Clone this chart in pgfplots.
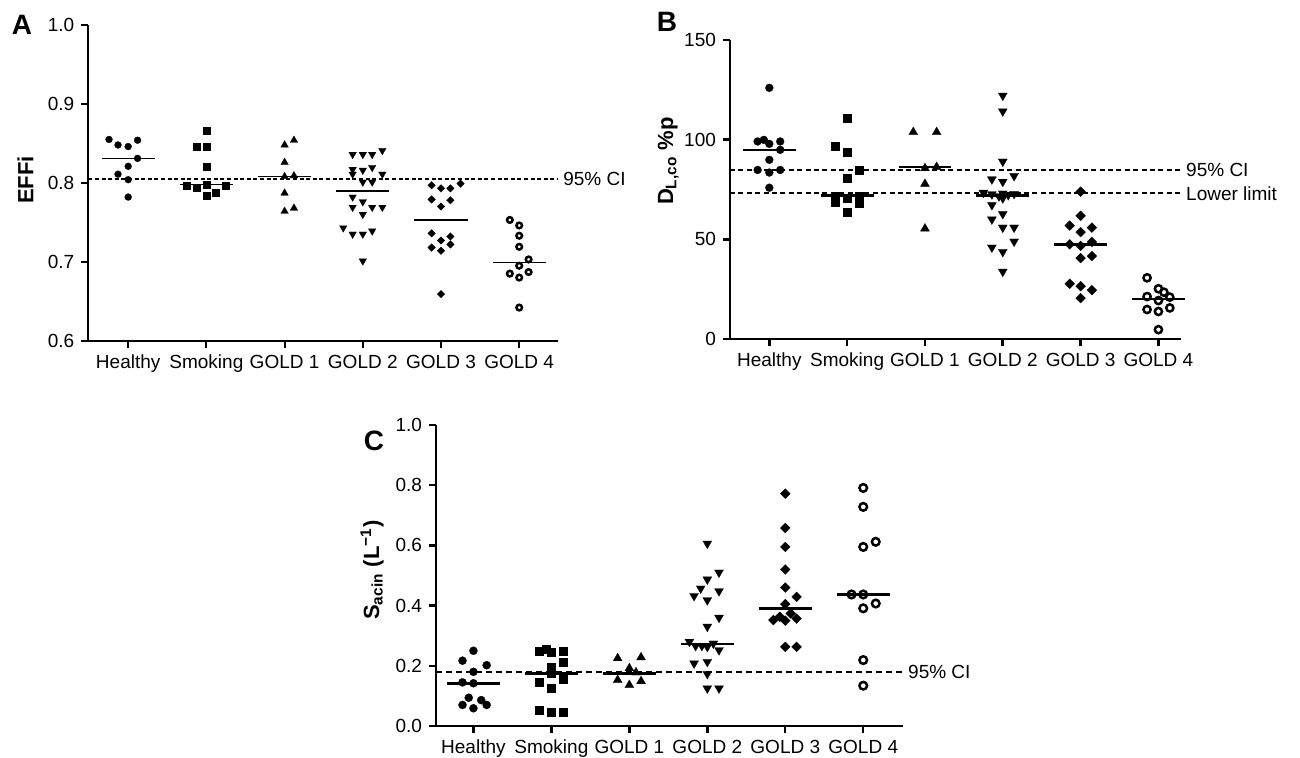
\documentclass[border=0pt]{standalone}
\usepackage{fontspec}
\setmainfont{Liberation Sans}
\usepackage{pgfplots}
\pgfplotsset{compat=1.18}
\pgfplotsset{
  panel/.style={
    scale only axis, clip=false,
    axis x line*=bottom, axis y line*=left,
    xtick pos=bottom, ytick pos=left,
    axis line style={line width=#1, black},
    tick style={line width=#1, black},
    tick align=outside, major tick length=3.5pt,
    xtick={1,2,3,4,5,6},
    xticklabels={Healthy,Smoking,GOLD 1,GOLD 2,GOLD 3,GOLD 4},
    tick label style={font=\fontsize{9.5}{10}\selectfont},
    /pgf/number format/assume math mode=true,
    ylabel style={font=\bfseries\fontsize{11}{12}\selectfont, anchor=center},
  },
  mcirc/.style={only marks, mark=*, mark size=#1, mark options={solid, fill=black, draw=black, line width=0.1pt}},
  msq/.style={only marks, mark=square*, mark size=#1, mark options={solid, fill=black, draw=black, line width=0.1pt}},
  mtri/.style={only marks, mark=triangle*, mark size=#1, mark options={solid, fill=black, draw=black, line width=0.1pt}},
  mtrid/.style={only marks, mark=triangle*, mark size=#1, mark options={solid, rotate=180, fill=black, draw=black, line width=0.1pt}},
  mdia/.style={only marks, mark=square*, mark size=#1, mark options={solid, rotate=45, fill=black, draw=black, line width=0.1pt}},
  mopen/.style={only marks, mark=o, mark size=#1, line width=1.25pt, mark options={solid, fill=white, draw=black, line width=1.25pt}},
}
\newcommand{\lab}{\fontsize{9.5}{10}\selectfont}
\begin{document}
\begin{tikzpicture}
\useasboundingbox (0,0) rectangle (650pt,378.5pt);

% ---------------- Panel A ----------------
\begin{axis}[panel=1pt, at={(44.15pt,208.15pt)}, anchor=south west,
  width=235pt, height=157.85pt,
  xmin=0.49, xmax=6.5, ymin=0.6, ymax=1.0,
  ytick={0.6,0.7,0.8,0.9,1.0},
  yticklabel style={/pgf/number format/.cd, fixed, fixed zerofill, precision=1},
  ylabel={EFFi}, ylabel style={at={(axis description cs:-0.134,0.509)}}]
\addplot[black, line width=1pt, dash pattern=on 2pt off 1.3pt] coordinates {(0.49,0.805) (6.5,0.805)}
  node[pos=1, anchor=west, font=\lab, inner sep=2pt] {95\% CI};
\addplot[mcirc=1.75pt] coordinates {(0.755,0.855) (0.87,0.848) (1,0.846) (1.12,0.854) (1.12,0.831) (1,0.821) (0.87,0.811) (1,0.804) (1,0.782)};
\addplot[msq=1.75pt] coordinates {(2,0.866) (1.88,0.846) (2,0.846) (2,0.820) (1.75,0.797) (1.88,0.794) (2,0.798) (2.245,0.796) (2,0.784) (2.12,0.788)};
\addplot[mtri=2.2pt] coordinates {(3,0.848) (3.12,0.854) (3,0.826) (3,0.808) (3.12,0.809) (3,0.787) (3,0.764) (3.12,0.768)};
\addplot[mtrid=2.2pt] coordinates {(3.87,0.836) (4,0.836) (4.12,0.836) (4.25,0.841) (3.87,0.817) (4,0.816) (4.12,0.8195) (3.87,0.811) (4.25,0.811) (4,0.801) (4.12,0.801) (3.87,0.782) (4,0.776) (3.87,0.769) (4.12,0.769) (4.25,0.769) (4,0.760) (3.75,0.743) (3.87,0.735) (4,0.735) (4.12,0.739) (4,0.701)};
\addplot[mdia=1.35pt] coordinates {(4.88,0.797) (5,0.793) (5.12,0.793) (5.25,0.799) (4.88,0.779) (5.12,0.778) (5,0.770) (4.88,0.736) (5.12,0.732) (5,0.727) (4.88,0.718) (5.12,0.722) (5,0.714) (5,0.659)};
\addplot[mopen=1.4pt] coordinates {(5.88,0.753) (6,0.746) (6,0.733) (6,0.719) (6.12,0.703) (6,0.695) (5.88,0.685) (6.12,0.687) (6,0.680) (6,0.642)};
\addplot[black, line width=0.85pt] coordinates {(0.66,0.831) (1.34,0.831)};
\addplot[black, line width=0.85pt] coordinates {(1.66,0.798) (2.34,0.798)};
\addplot[black, line width=0.85pt] coordinates {(2.66,0.808) (3.34,0.808)};
\addplot[black, line width=0.85pt] coordinates {(3.66,0.790) (4.34,0.790)};
\addplot[black, line width=0.85pt] coordinates {(4.66,0.753) (5.34,0.753)};
\addplot[black, line width=0.85pt] coordinates {(5.66,0.699) (6.34,0.699)};
\end{axis}

% ---------------- Panel B ----------------
\begin{axis}[panel=1.3pt, at={(365pt,209pt)}, anchor=south west,
  width=225.5pt, height=149.5pt,
  xmin=0.495, xmax=6.29, ymin=0, ymax=150,
  ytick={0,50,100,150},
  ylabel={D\textsubscript{L,co} \%p}, ylabel style={at={(axis description cs:-0.137,0.595)}}]
\addplot[black, line width=1.2pt, dash pattern=on 2.5pt off 1.7pt] coordinates {(0.495,84.7) (6.29,84.7)}
  node[pos=1, anchor=west, font=\lab, inner sep=2pt] {95\% CI};
\addplot[black, line width=1.2pt, dash pattern=on 2.5pt off 1.7pt] coordinates {(0.495,73.1) (6.29,73.1)}
  node[pos=1, anchor=west, font=\lab, inner sep=2pt] {Lower limit};
\addplot[mcirc=2pt] coordinates {(1,126.0) (0.85,99.1) (0.93,99.9) (1,97.9) (1.14,99.1) (1.14,94.9) (1,89.9) (0.85,84.8) (1.14,84.8) (1,83.5) (1,75.9)};
\addplot[msq=2pt] coordinates {(2,110.9) (1.85,96.9) (2,93.7) (2.15,84.8) (2,80.6) (1.85,71.7) (2.15,71.7) (2,70.6) (1.85,68.9) (2.15,68.0) (2,63.8)};
\addplot[mtri=2.6pt] coordinates {(2.85,103.8) (3.15,103.8) (3,85.7) (3.15,86.3) (3,77.8) (3,55.4)};
\addplot[mtrid=2.6pt] coordinates {(4,122.1) (4,114.2) (4,89.0) (4.145,81.8) (3.86,80.1) (4,78.9) (3.86,67.2) (4,62.7) (3.86,60.0) (4,55.9) (4.145,55.9) (4.145,48.9) (3.86,45.9) (4,43.7) (4,33.8) (3.75,73.4) (3.86,72.6) (4,73.0) (4.07,72.2) (4.145,72.8) (3.95,71.6) (4,70.6)};
\addplot[mdia=1.75pt] coordinates {(5,73.9) (5,61.8) (4.86,56.9) (5.145,55.9) (5,53.6) (4.86,47.5) (5,46.7) (5.145,48.7) (5,40.6) (5.145,41.6) (4.86,27.7) (5,26.5) (5.145,24.5) (5,20.5)};
\addplot[mopen=1.8pt] coordinates {(5.854,30.7) (6,25.2) (6.07,23.5) (6.146,21.0) (5.854,21.3) (6,19.3) (6.146,15.6) (5.854,14.8) (6,13.8) (6,4.7)};
\addplot[black, line width=1.3pt] coordinates {(0.66,94.9) (1.34,94.9)};
\addplot[black, line width=1.3pt] coordinates {(1.66,72.0) (2.34,72.0)};
\addplot[black, line width=1.3pt] coordinates {(2.66,86.3) (3.34,86.3)};
\addplot[black, line width=1.3pt] coordinates {(3.66,72.0) (4.34,72.0)};
\addplot[black, line width=1.3pt] coordinates {(4.66,47.4) (5.34,47.4)};
\addplot[black, line width=1.3pt] coordinates {(5.66,20.0) (6.34,20.0)};
\end{axis}

% ---------------- Panel C ----------------
\begin{axis}[panel=1.2pt, at={(218pt,15.5pt)}, anchor=south west,
  width=233.5pt, height=150.5pt,
  xmin=0.52, xmax=6.51, ymin=0, ymax=1.0,
  ytick={0,0.2,0.4,0.6,0.8,1.0},
  yticklabel style={/pgf/number format/.cd, fixed, fixed zerofill, precision=1},
  ylabel={S\textsubscript{acin} (L\textsuperscript{−1})}, ylabel style={at={(axis description cs:-0.137,0.518)}}]
\addplot[black, line width=1.2pt, dash pattern=on 3pt off 2pt] coordinates {(0.52,0.180) (6.51,0.180)}
  node[pos=1, anchor=west, font=\lab, inner sep=2pt] {95\% CI};
\addplot[mcirc=2.05pt] coordinates {(1,0.250) (0.86,0.217) (1.17,0.202) (1,0.180) (0.86,0.145) (1,0.142) (0.94,0.094) (1.10,0.086) (0.86,0.070) (1,0.059) (1.17,0.070)};
\addplot[msq=2pt] coordinates {(1.84,0.250) (1.93,0.255) (2,0.247) (2.15,0.250) (2.15,0.213) (2,0.195) (2,0.175) (1.84,0.147) (2.15,0.156) (2,0.125) (1.84,0.053) (2,0.047) (2.15,0.047)};
\addplot[mtri=2.6pt] coordinates {(2.85,0.225) (3.15,0.228) (3,0.192) (3.085,0.178) (2.85,0.153) (3,0.136) (3.15,0.149)};
\addplot[mtrid=2.6pt] coordinates {(4,0.606) (4.15,0.510) (4,0.487) (3.915,0.457) (4.15,0.448) (3.83,0.432) (4,0.418) (4.15,0.360) (4,0.330) (3.77,0.280) (3.85,0.266) (3.93,0.266) (4,0.263) (4.077,0.274) (4.15,0.252) (3.83,0.208) (4,0.213) (4,0.173) (4,0.125) (4.15,0.125)};
\addplot[mdia=1.75pt] coordinates {(5,0.772) (5,0.658) (5,0.595) (5,0.520) (5,0.460) (5.145,0.429) (5,0.405) (4.847,0.352) (4.93,0.363) (5,0.350) (5.07,0.374) (5.145,0.357) (5,0.263) (5.145,0.263)};
\addplot[mopen=1.9pt] coordinates {(6,0.791) (6,0.728) (6,0.595) (6.16,0.612) (5.85,0.437) (6,0.437) (6,0.391) (6.16,0.407) (6,0.219) (6,0.134)};
\addplot[black, line width=1.3pt] coordinates {(0.66,0.142) (1.34,0.142)};
\addplot[black, line width=1.3pt] coordinates {(1.66,0.175) (2.34,0.175)};
\addplot[black, line width=1.3pt] coordinates {(2.66,0.175) (3.34,0.175)};
\addplot[black, line width=1.3pt] coordinates {(3.66,0.272) (4.34,0.272)};
\addplot[black, line width=1.3pt] coordinates {(4.66,0.391) (5.34,0.391)};
\addplot[black, line width=1.3pt] coordinates {(5.66,0.437) (6.34,0.437)};
\end{axis}

\node[font=\bfseries\fontsize{14}{16}\selectfont] at (11pt,366pt) {A};
\node[font=\bfseries\fontsize{14}{16}\selectfont] at (333.5pt,367.5pt) {B};
\node[font=\bfseries\fontsize{14}{16}\selectfont] at (187pt,158pt) {C};
\end{tikzpicture}
\end{document}
